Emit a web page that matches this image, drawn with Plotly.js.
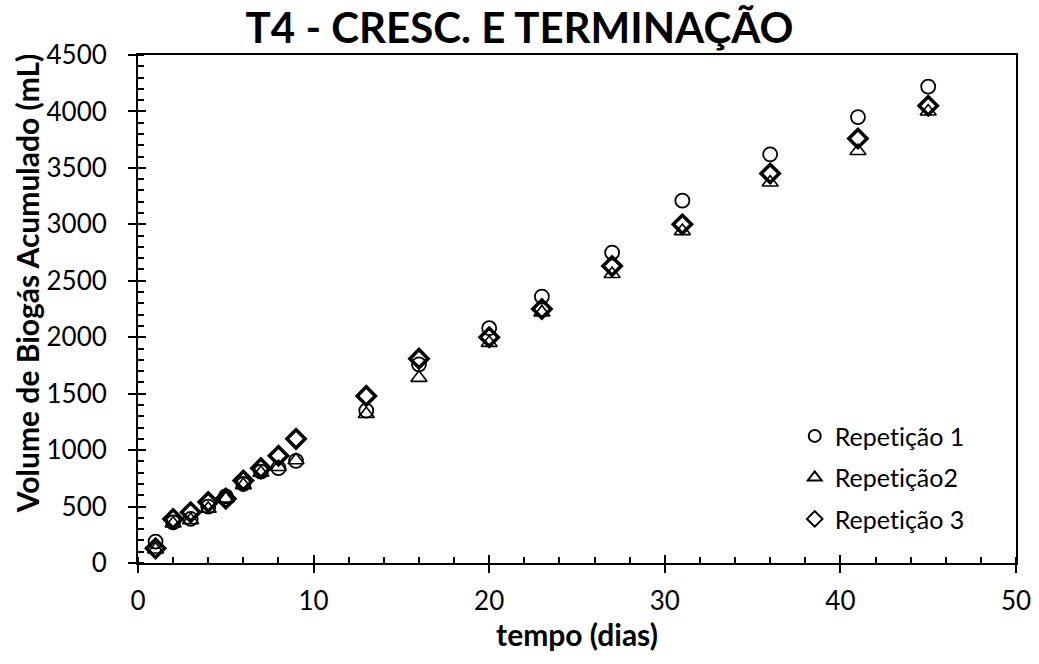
<!DOCTYPE html>
<html><head><meta charset="utf-8">
<script src="https://cdn.plot.ly/plotly-3.0.1.min.js"></script>
<style>body{margin:0;background:#fff}#c{width:1039px;height:664px}#c text{font-variant-ligatures:none !important;font-feature-settings:"liga" 0,"clig" 0 !important;}</style>
</head><body><div id="c"></div>
<script>
const days = [1,2,3,4,5,6,7,8,9,13,16,20,23,27,31,36,41,45];
const rep1 = [190,360,390,500,590,700,810,840,905,1350,1760,2080,2360,2750,3210,3620,3950,4220];
const rep2 = [120,350,380,480,570,690,800,850,910,1320,1640,1950,2220,2560,2940,3370,3650,4000];
const rep3 = [130,390,450,540,570,730,840,950,1100,1480,1810,2000,2250,2630,3000,3450,3760,4050];
const names = ['Repetição 1','Repetição2','Repetição 3'];
const yTitle = 'Volume de Biogás Acumulado (mL)';
const FONT = 'Lato, "Open Sans", sans-serif';
const traces = [
  {x:days,y:rep1,name:names[0],legendgroup:'a',mode:'markers',type:'scatter',
   marker:{symbol:'circle-open',size:14,color:'#000',line:{width:1.8,color:'#000'}}},
  {x:days,y:rep2,name:names[1],legendgroup:'b',mode:'markers',type:'scatter',
   marker:{symbol:'triangle-up-open',size:14,color:'#000',line:{width:1.6,color:'#000'}}},
  {x:days,y:rep3,name:names[2],legendgroup:'c',mode:'markers',type:'scatter',
   marker:{symbol:'diamond-open',size:14,color:'#000',line:{width:3.5,color:'#000'}}},
  {x:[],y:[],xaxis:'x2',yaxis:'y2',showlegend:false,hoverinfo:'skip'}
];
const layout = {
  width:1039,height:664,
  margin:{l:138,r:23,t:55,b:101},
  paper_bgcolor:'#fff',plot_bgcolor:'#fff',
  font:{family:FONT,color:'#000',size:26},
  title:{text:'<b>T4 - CRESC. E TERMINAÇÃO</b>',font:{family:FONT,size:42,color:'#000'},
         x:0.5,xanchor:'center',y:0.957,yanchor:'middle'},
  showlegend:true,
  legend:{x:0.748,y:0.295,xanchor:'left',yanchor:'top',font:{size:25,family:FONT},
          bgcolor:'rgba(0,0,0,0)',itemsizing:'constant',traceorder:'grouped',tracegroupgap:6},
  annotations:[{text:'<b>'+yTitle+'</b>',xref:'paper',yref:'paper',x:-0.1264,y:0.549,
                xanchor:'center',yanchor:'middle',textangle:-90,showarrow:false,
                font:{size:30,family:FONT,color:'#000'}}],
  xaxis:{range:[0,50],dtick:10,showgrid:false,zeroline:false,
         showline:true,linecolor:'#000',linewidth:2,mirror:true,
         ticks:'outside',ticklen:8,tickwidth:2,tickcolor:'#000',ticklabelstandoff:6,
         minor:{dtick:2,ticks:'inside',ticklen:6,tickwidth:2,tickcolor:'#000',showgrid:false},
         tickfont:{size:26},
         title:{text:'<b>tempo (dias)</b>',font:{size:30},standoff:10}},
  yaxis:{range:[0,4500],dtick:500,showgrid:false,zeroline:false,
         showline:true,linecolor:'#000',linewidth:2,mirror:true,
         ticks:'outside',ticklen:8,tickwidth:2,tickcolor:'#000',ticklabelstandoff:16,
         minor:{dtick:100,ticks:'inside',ticklen:6,tickwidth:2,tickcolor:'#000',showgrid:false},
         tickfont:{size:26}},
  xaxis2:{overlaying:'x',matches:'x',range:[0,50],dtick:10,showgrid:false,zeroline:false,
          showticklabels:false,ticks:'inside',ticklen:8,tickwidth:2,tickcolor:'#000',anchor:'y2',side:'bottom'},
  yaxis2:{overlaying:'y',range:[0,4500],dtick:500,showgrid:false,zeroline:false,
          showticklabels:false,ticks:'inside',ticklen:8,tickwidth:2,tickcolor:'#000',anchor:'x2',side:'left'}
};
Plotly.newPlot('c',traces,layout,{displayModeBar:false,staticPlot:true});
</script></body></html>
